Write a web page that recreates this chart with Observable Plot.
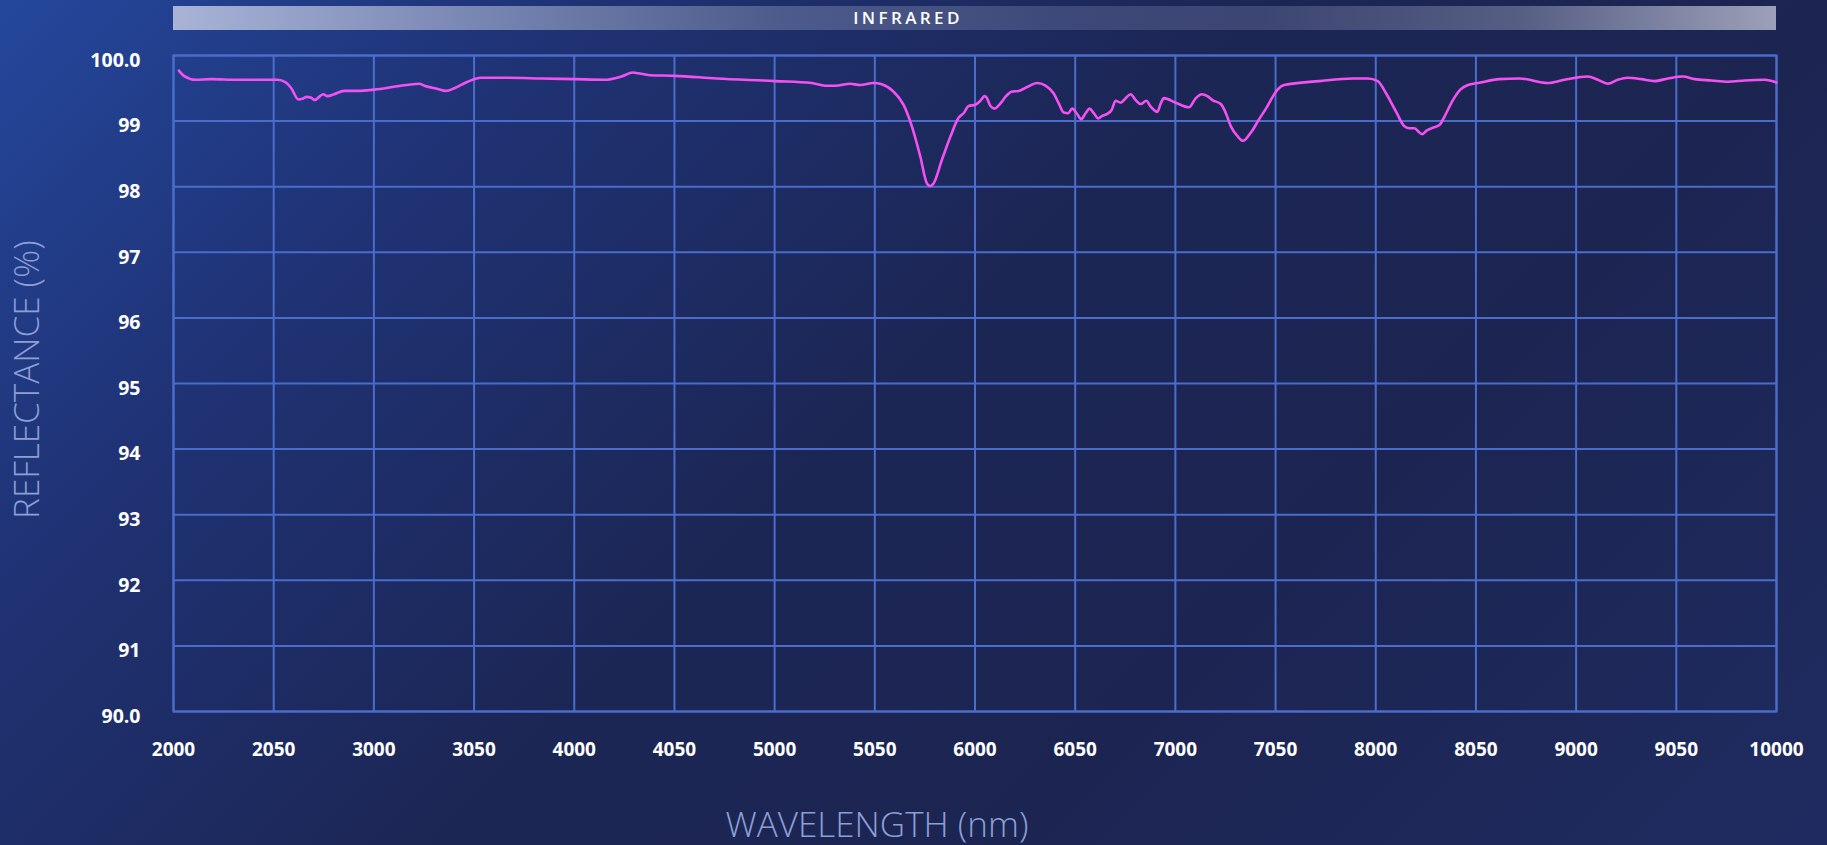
<!DOCTYPE html>
<html>
<head>
<meta charset="utf-8">
<script src="https://cdn.jsdelivr.net/npm/d3@7"></script>
<script src="https://cdn.jsdelivr.net/npm/@observablehq/plot@0.6"></script>
<style>
  html, body { margin: 0; padding: 0; }
  body { width: 1827px; height: 845px; overflow: hidden;
    background: linear-gradient(135deg, #24479c 0%, #1f3274 22%, #1c2654 48%, #1c2552 70%, #1f2b60 100%); }
  #wrap { position: relative; width: 1827px; height: 845px; }
  #band { position: absolute; left: 173px; top: 6px; width: 1603px; height: 24px;
    background: linear-gradient(to right, #a8b3d6 0%, #7a88b4 18%, #4d5b8c 38%, #3d4979 55%, #3d4572 68%, #565e84 84%, #9ca0b8 100%); }
  #bandText { position: absolute; left: 908px; top: 6px; height: 24px; line-height: 24px;
    transform: translateX(-50%); color: #ffffff; font-family: "Open Sans", sans-serif;
    font-weight: 600; font-size: 17px; letter-spacing: 3.4px; white-space: nowrap; }
  #chart { position: absolute; left: 0; top: 0; }
</style>
</head>
<body>
<div id="wrap">
  <div id="band"></div>
  <div id="bandText">INFRARED</div>
  <div id="chart"></div>
</div>
<script>
// Wavelength (nm) and reflectance (%)
const wavelength = [
  2027, 2052, 2110, 2185, 2318, 2518, 2560, 2588, 2623, 2643, 2665, 2685, 2705, 2727, 2748, 2768,
  2802, 2852, 2918, 3002, 3118, 3227, 3252, 3318, 3360, 3402, 3468, 3535, 3668, 3835, 4002, 4152,
  4235, 4293, 4318, 4377, 4502, 4710, 5002, 5185, 5252, 5302, 5377, 5427, 5493, 5535, 5593, 5643,
  5685, 5727, 5760, 5777, 5793, 5835, 5877, 5918, 5943, 5968, 6002, 6027, 6048, 6058, 6077, 6098,
  6127, 6155, 6185, 6218, 6260, 6310, 6352, 6393, 6418, 6443, 6465, 6485, 6507, 6530, 6552, 6572,
  6593, 6615, 6635, 6660, 6682, 6702, 6727, 6752, 6777, 6802, 6827, 6855, 6877, 6910, 6927, 6943,
  7002, 7068, 7102, 7132, 7160, 7185, 7227, 7252, 7277, 7310, 7338, 7368, 7385, 7410, 7452, 7510,
  7543, 7718, 7885, 7960, 8010, 8052, 8102, 8143, 8168, 8193, 8213, 8232, 8252, 8277, 8318, 8343,
  8385, 8422, 8460, 8510, 8618, 8718, 8858, 8942, 9058, 9108, 9158, 9208, 9258, 9325, 9392, 9458,
  9533, 9592, 9675, 9758, 9842, 9942, 10000
];
const reflectance = [
  99.77, 99.69, 99.63, 99.64, 99.63, 99.63, 99.59, 99.50, 99.33, 99.34, 99.37, 99.36, 99.32, 99.37, 99.41, 99.38,
  99.41, 99.46, 99.46, 99.48, 99.53, 99.57, 99.54, 99.49, 99.46, 99.50, 99.60, 99.66, 99.66, 99.65, 99.64, 99.63,
  99.68, 99.74, 99.73, 99.70, 99.69, 99.65, 99.61, 99.58, 99.54, 99.54, 99.57, 99.55, 99.58, 99.56, 99.45, 99.25,
  98.92, 98.46, 98.05, 98.01, 98.05, 98.41, 98.76, 99.05, 99.12, 99.23, 99.25, 99.31, 99.38, 99.36, 99.23, 99.19,
  99.27, 99.38, 99.45, 99.46, 99.52, 99.58, 99.54, 99.42, 99.27, 99.13, 99.12, 99.19, 99.12, 99.03, 99.12, 99.19,
  99.12, 99.04, 99.08, 99.11, 99.17, 99.31, 99.28, 99.35, 99.41, 99.32, 99.26, 99.31, 99.22, 99.14, 99.27, 99.35,
  99.28, 99.21, 99.35, 99.41, 99.38, 99.32, 99.26, 99.12, 98.92, 98.77, 98.70, 98.79, 98.86, 98.99, 99.19, 99.48,
  99.55, 99.61, 99.65, 99.65, 99.61, 99.42, 99.14, 98.92, 98.89, 98.89, 98.84, 98.80, 98.85, 98.89, 98.94, 99.07,
  99.32, 99.48, 99.55, 99.58, 99.64, 99.65, 99.58, 99.63, 99.68, 99.63, 99.57, 99.63, 99.66, 99.64, 99.61, 99.65,
  99.68, 99.64, 99.62, 99.60, 99.62, 99.63, 99.59
];

// Tick positions and their labels, as printed on the reference
const xTicks = [2000, 2500, 3000, 3500, 4000, 4500, 5000, 5500, 6000, 6500, 7000, 7500, 8000, 8500, 9000, 9500, 10000];
const xTickLabels = ["2000", "2050", "3000", "3050", "4000", "4050", "5000", "5050", "6000", "6050", "7000", "7050", "8000", "8050", "9000", "9050", "10000"];
const yTicks = [90, 91, 92, 93, 94, 95, 96, 97, 98, 99, 100];
const yTickLabels = ["90.0", "91", "92", "93", "94", "95", "96", "97", "98", "99", "100.0"];

const xTitle = "WAVELENGTH (nm)";
const yTitle = "REFLECTANCE (%)";

const data = wavelength.map((w, i) => ({wavelength: w, reflectance: reflectance[i]}));
const xLabelMap = new Map(xTicks.map((t, i) => [t, xTickLabels[i]]));
const yLabelMap = new Map(yTicks.map((t, i) => [t, yTickLabels[i]]));

const gridColor = "#4a6dcc";
const labelColor = "#8c9fd6";

const chart = Plot.plot({
  width: 1827,
  height: 845,
  marginLeft: 173,
  marginRight: 51,
  marginTop: 55,
  marginBottom: 134,
  style: {background: "transparent", fontFamily: "Open Sans, sans-serif", color: "#ffffff", overflow: "visible"},
  x: {domain: [2000, 10000]},
  y: {domain: [90, 100]},
  marks: [
    Plot.gridX(xTicks, {stroke: gridColor, strokeOpacity: 1, strokeWidth: 2}),
    Plot.gridY(yTicks, {stroke: gridColor, strokeOpacity: 1, strokeWidth: 2}),
    Plot.frame({stroke: gridColor, strokeWidth: 2}),
    Plot.line(data, {x: "wavelength", y: "reflectance", stroke: "#f550f2", strokeWidth: 2.6, curve: "monotone-x"}),
    Plot.axisX(xTicks, {tickSize: 0, tickPadding: 31, tickFormat: d => xLabelMap.get(d), fill: "#ffffff", fontSize: 19, fontWeight: 700, label: null}),
    Plot.axisY(yTicks, {tickSize: 0, tickPadding: 33, dy: 5, tickFormat: d => yLabelMap.get(d), fill: "#ffffff", fontSize: 19.5, fontWeight: 700, label: null}),
    Plot.text([xTitle], {frameAnchor: "bottom", dx: -98, dy: 114, textAnchor: "middle", lineAnchor: "middle", fill: labelColor, fontSize: 35, fontWeight: 300}),
    Plot.text([yTitle], {frameAnchor: "left", dx: -146, dy: -4, rotate: -90, textAnchor: "middle", lineAnchor: "middle", fill: labelColor, fontSize: 35, fontWeight: 300})
  ]
});
document.getElementById("chart").appendChild(chart);
</script>
</body>
</html>
